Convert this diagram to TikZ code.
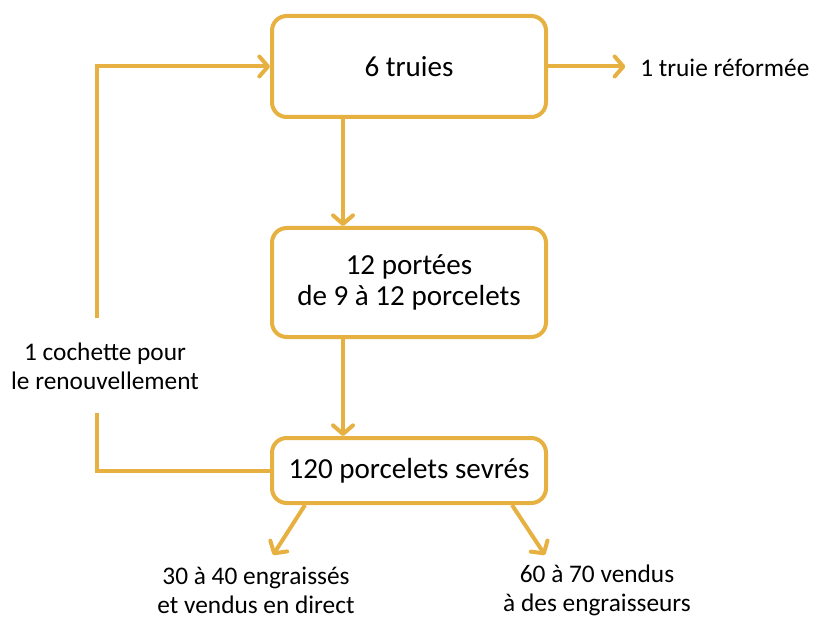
\documentclass[tikz,border=0pt]{standalone}
\usepackage{fontspec}
\setmainfont{Carlito}
\usetikzlibrary{arrows.meta}
\definecolor{gold}{RGB}{230,177,64}
\begin{document}
\begin{tikzpicture}[x=0.75pt,y=-0.75pt,
  box/.style={draw=gold, line width=3pt, rounded corners=11pt, fill=white,
    minimum width=205.5pt, align=center, inner sep=0pt,
    font=\fontsize{21.8}{23.5}\selectfont},
  lbl/.style={align=center, inner sep=0pt, font=\fontsize{19}{21.75}\selectfont},
  conn/.style={draw=gold, line width=3pt},
  arr/.style={conn, -{Straight Barb[length=6.5pt,width=15pt,round]}}]
\useasboundingbox (0,0) rectangle (813,620);
\node[box, minimum height=75.75pt] (t1) at (409,66.5) {6 truies};
\node[box, minimum height=81.75pt] (t2) at (409,282.5) {12 portées\\de 9 à 12 porcelets};
\node[box, minimum height=48.75pt] (t3) at (409,470.5) {120 porcelets sevrés};
\node[lbl, anchor=west] (r1) at (640,68) {1 truie réformée};
\node[lbl] (lab) at (105,366) {1 cochette pour\\le renouvellement};
\node[lbl] (b1) at (256,590) {30 à 40 engraissés\\et vendus en direct};
\node[lbl] (b2) at (597,590) {60 à 70 vendus\\à des engraisseurs};
\coordinate (fa) at (97,413);
\coordinate (fb) at (97,318);
\coordinate (e1) at (273,555);
\coordinate (e2) at (545,555);
\draw[arr] ([xshift=54.75pt]t1.south west) -- ([xshift=54.75pt]t2.north west);
\draw[arr] ([xshift=54.75pt]t2.south west) -- ([xshift=54.75pt]t3.north west);
\draw[arr, shorten >=11pt] (t1.east) -- (t1.east -| r1.west);
\draw[conn] (t3.west) -| (fa);
\draw[arr] (fb) |- (t1.west);
\draw[arr] ([xshift=26.25pt]t3.south west) -- (e1);
\draw[arr] ([xshift=-27pt]t3.south east) -- (e2);
\end{tikzpicture}
\end{document}
